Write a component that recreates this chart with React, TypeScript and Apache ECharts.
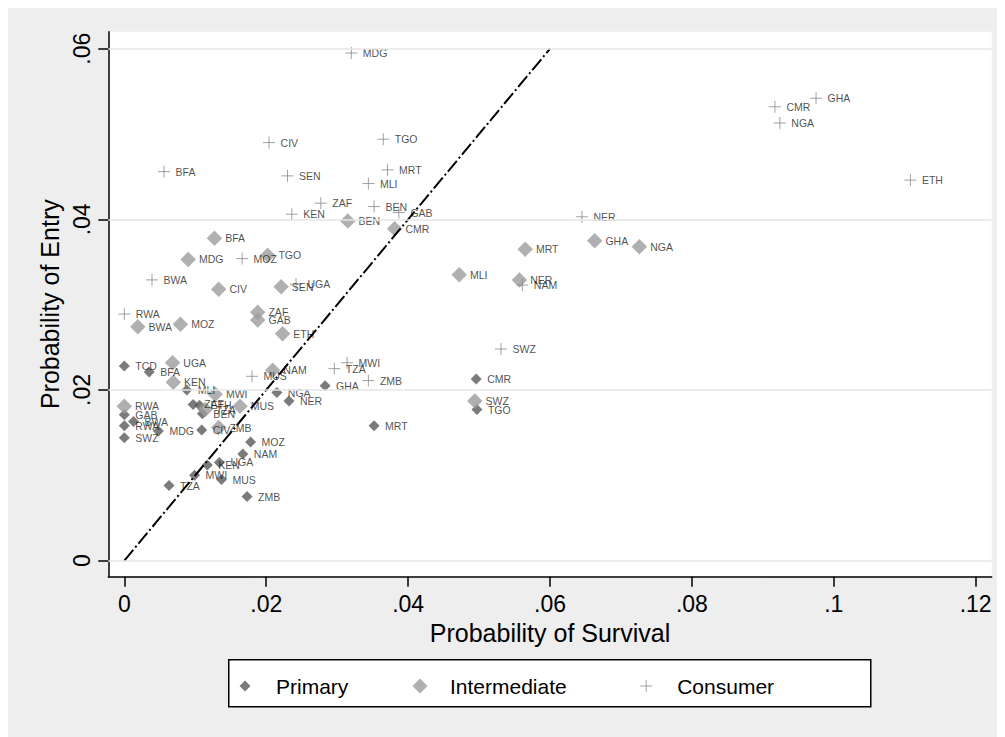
import React, { useEffect, useRef } from "react";
import * as echarts from "echarts";

const FONT = "'Liberation Sans', Arial, Helvetica, sans-serif";

const xTicks = [0, 0.02, 0.04, 0.06, 0.08, 0.1, 0.12];
const yTicks = [0, 0.02, 0.04, 0.06];

const primaryNames = ["TCD", "BFA", "MLI", "GAB", "RWA", "BWA", "SWZ", "MDG", "CIV", "ZAF", "ETH", "BEN", "MOZ", "NAM", "UGA", "KEN", "MWI", "MUS", "TZA", "ZMB", "NGA", "NER", "GHA", "MRT", "CMR", "TGO"];
const primaryX = [0, 0.0035, 0.0088, 0, 0, 0.0013, 0, 0.0048, 0.0109, 0.0097, 0.0106, 0.011, 0.0178, 0.0167, 0.0134, 0.0117, 0.0099, 0.0137, 0.0063, 0.0173, 0.0215, 0.0232, 0.0283, 0.0352, 0.0496, 0.0497];
const primaryY = [0.0228, 0.0221, 0.02, 0.0171, 0.0158, 0.0163, 0.0144, 0.0152, 0.0153, 0.0183, 0.0182, 0.0172, 0.0139, 0.0125, 0.0115, 0.0112, 0.01, 0.0095, 0.0088, 0.0075, 0.0197, 0.0187, 0.0205, 0.0158, 0.0213, 0.0177];

const interNames = ["BFA", "MDG", "TGO", "CIV", "SEN", "ZAF", "GAB", "ETH", "BWA", "MOZ", "BEN", "CMR", "MLI", "NER", "MRT", "GHA", "NGA", "SWZ", "NAM", "MUS", "UGA", "KEN", "MWI", "RWA", "ZMB", "TZA"];
const interX = [0.0127, 0.009, 0.0202, 0.0133, 0.0221, 0.0188, 0.0188, 0.0223, 0.0019, 0.0079, 0.0315, 0.0381, 0.0472, 0.0557, 0.0565, 0.0663, 0.0726, 0.0494, 0.0209, 0.0163, 0.0068, 0.0069, 0.0128, 0, 0.0133, 0.0114];
const interY = [0.0378, 0.0353, 0.0358, 0.0318, 0.0321, 0.0291, 0.0282, 0.0266, 0.0274, 0.0277, 0.0398, 0.0389, 0.0335, 0.0329, 0.0365, 0.0375, 0.0368, 0.0187, 0.0223, 0.0181, 0.0232, 0.0209, 0.0195, 0.0181, 0.0156, 0.0177];

const consNames = ["MDG", "CIV", "TGO", "BFA", "SEN", "MRT", "MLI", "ZAF", "BEN", "GAB", "KEN", "MOZ", "BWA", "RWA", "UGA", "MUS", "TZA", "MWI", "ZMB", "SWZ", "NAM", "NER", "CMR", "GHA", "NGA", "ETH"];
const consX = [0.032, 0.0204, 0.0365, 0.0056, 0.023, 0.0371, 0.0344, 0.0277, 0.0352, 0.0387, 0.0236, 0.0166, 0.0039, 0, 0.0242, 0.018, 0.0296, 0.0314, 0.0344, 0.0531, 0.0561, 0.0645, 0.0917, 0.0975, 0.0924, 0.1108];
const consY = [0.0595, 0.049, 0.0494, 0.0456, 0.0451, 0.0458, 0.0442, 0.0419, 0.0415, 0.0408, 0.0406, 0.0354, 0.0329, 0.0289, 0.0324, 0.0216, 0.0225, 0.0232, 0.0211, 0.0248, 0.0323, 0.0403, 0.0532, 0.0542, 0.0513, 0.0446];

const diagonal = [[0, 0], [0.06, 0.06]];

const PLUS = "path://M0 6L12 6M6 0L6 12";
const C_PRIMARY = "#5a5a5a";
const C_INTER = "#9c9c9c";
const C_CONS = "#8a8a8a";

function fmt(v: number): string {
  if (Math.abs(v) < 1e-9) return "0";
  return String(Number(v.toFixed(2))).replace(/^0\./, ".");
}

function pts(names: string[], xs: number[], ys: number[]) {
  return names.map((n, i) => ({ name: n, value: [xs[i], ys[i]] }));
}

const labelBase = {
  show: true,
  position: "right",
  formatter: "{b}",
  fontSize: 10.5,
  color: "#1e1e1e",
  fontFamily: FONT,
};

export default function App() {
  const ref = useRef<HTMLDivElement>(null);
  useEffect(() => {
    if (!ref.current) return;
    const chart = echarts.init(ref.current, null, { renderer: "svg" });
    const legendText = (padLeft: number) => ({
      fontSize: 21,
      color: "#000",
      fontFamily: FONT,
      lineHeight: 24,
      padding: [0, 0, 0, padLeft],
    });
    chart.setOption({
      animation: false,
      backgroundColor: "#eeeeee",
      grid: {
        left: 100.3,
        right: 13.3,
        top: 23.7,
        bottom: 160.3,
        show: true,
        backgroundColor: "#ffffff",
        borderWidth: 0,
      },
      xAxis: {
        type: "value",
        min: -0.00226,
        max: 0.12226,
        name: "Probability of Survival",
        nameLocation: "middle",
        nameGap: 39,
        nameTextStyle: { fontSize: 25, color: "#000", fontFamily: FONT },
        axisLine: { show: true, onZero: false, lineStyle: { color: "#000", width: 1.5 } },
        axisTick: { show: true, length: 10, customValues: xTicks, lineStyle: { color: "#000", width: 1.5 } },
        axisLabel: {
          customValues: xTicks,
          formatter: (v: number) => fmt(v),
          fontSize: 23,
          color: "#000",
          fontFamily: FONT,
          margin: 16,
        },
        splitLine: { show: false },
      },
      yAxis: {
        type: "value",
        min: -0.00189,
        max: 0.062,
        name: "Probability of Entry",
        nameLocation: "middle",
        nameGap: 42,
        nameTextStyle: { fontSize: 25, color: "#000", fontFamily: FONT },
        axisLine: { show: true, onZero: false, lineStyle: { color: "#000", width: 1.5 } },
        axisTick: { show: true, length: 10, customValues: yTicks, lineStyle: { color: "#000", width: 1.5 } },
        axisLabel: {
          customValues: yTicks,
          formatter: (v: number) => fmt(v),
          rotate: 90,
          fontSize: 23,
          color: "#000",
          fontFamily: FONT,
          margin: 15,
        },
        splitLine: { show: false },
      },
      graphic: [
        {
          type: "rect",
          left: 220,
          top: 651,
          shape: { width: 642, height: 47 },
          style: { fill: "#ffffff", stroke: "#000", lineWidth: 1.5 },
          z: 0,
        },
      ],
      legend: [
        {
          data: [{ name: "Primary", icon: "diamond" }],
          left: 231.5,
          top: 666,
          padding: 0,
          itemWidth: 11,
          itemHeight: 11,
          itemGap: 0,
          textStyle: legendText(20.5),
          selectedMode: false,
        },
        {
          data: [{ name: "Intermediate", icon: "diamond" }],
          left: 404.5,
          top: 666,
          padding: 0,
          itemWidth: 15,
          itemHeight: 15,
          itemGap: 0,
          textStyle: legendText(17.5),
          selectedMode: false,
        },
        {
          data: [{ name: "Consumer", icon: PLUS }],
          left: 631.7,
          top: 666,
          padding: 0,
          itemWidth: 12,
          itemHeight: 12,
          itemGap: 0,
          itemStyle: { color: "rgba(0,0,0,0)", borderColor: C_CONS, borderWidth: 1 },
          textStyle: legendText(20),
          selectedMode: false,
        },
      ],
      series: [
        {
          name: "grid",
          type: "line",
          data: [],
          z: 1,
          silent: true,
          markLine: {
            silent: true,
            symbol: ["none", "none"],
            label: { show: false },
            lineStyle: { color: "#e6e6e6", width: 1.5, type: "solid" },
            data: yTicks.map((v) => ({ yAxis: v })),
          },
        },
        {
          name: "Primary",
          type: "scatter",
          z: 2,
          symbol: "diamond",
          symbolSize: 11,
          itemStyle: { color: C_PRIMARY },
          label: { ...labelBase, distance: 5.5 },
          data: pts(primaryNames, primaryX, primaryY),
        },
        {
          name: "Intermediate",
          type: "scatter",
          z: 2,
          symbol: "diamond",
          symbolSize: 15.5,
          itemStyle: { color: C_INTER },
          label: { ...labelBase, distance: 3 },
          data: pts(interNames, interX, interY),
        },
        {
          name: "Consumer",
          type: "scatter",
          z: 2,
          symbol: PLUS,
          symbolSize: 12,
          itemStyle: { color: "rgba(0,0,0,0)", borderColor: C_CONS, borderWidth: 1 },
          label: { ...labelBase, distance: 5 },
          data: pts(consNames, consX, consY),
        },
        {
          name: "diag",
          type: "line",
          z: 3,
          silent: true,
          symbol: "none",
          lineStyle: { color: "#000", width: 2, type: [14, 3, 2, 3] },
          data: diagonal,
        },
      ],
    });
    return () => chart.dispose();
  }, []);
  return <div ref={ref} style={{ width: 997, height: 729 }} />;
}
